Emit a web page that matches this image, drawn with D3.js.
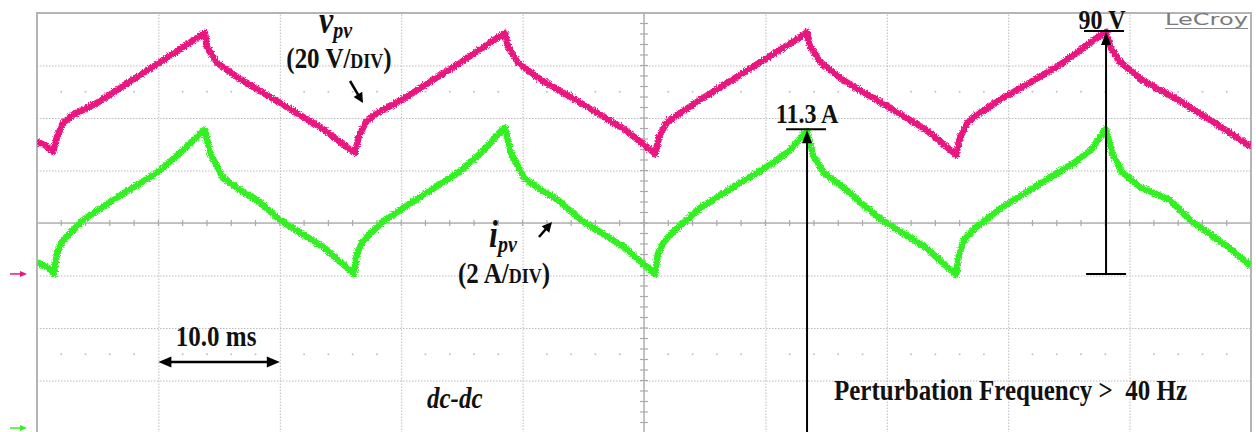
<!DOCTYPE html>
<html>
<head>
<meta charset="utf-8">
<script src="https://cdn.jsdelivr.net/npm/d3@7"></script>
<style>
  html, body { margin: 0; padding: 0; background: #fff; }
  svg { display: block; }
  .lbl { font-family: "Liberation Serif", "Times New Roman", serif; font-weight: bold; fill: #111; }
</style>
</head>
<body>
<svg id="scope" width="1256" height="432"></svg>
<script>
// Scope capture: v_pv (20 V/div) and i_pv (2 A/div), 10 ms/div
// samples are [time ms, value]

const vpvSamples = [
    [0, 50.3], [0.66, 49.1], [1.32, 46.5], [1.65, 52.2], [2.14, 57.5], [2.97, 60.6], [4.94, 65.1],
    [10.05, 80.4], [13.67, 91.4], [13.84, 91.8], [14.00, 86.5], [14.83, 80.4], [16.72, 74.3],
    [20.02, 65.1], [23.56, 55.2], [26.03, 46.5], [26.19, 46.1], [26.52, 52.6], [27.10, 57.9],
    [27.92, 61.0], [29.90, 65.9], [34.84, 80.4], [38.39, 91.4], [38.55, 91.8], [38.80, 86.5],
    [39.62, 80.4], [41.52, 73.9], [44.81, 65.1], [48.35, 55.2], [50.74, 46.5], [50.91, 45.7],
    [51.24, 52.2], [51.81, 57.5], [52.64, 60.2], [54.61, 66.3], [58.98, 78.9], [63.26, 91.4],
    [63.43, 92.2], [63.67, 86.9], [64.50, 80.8], [66.39, 73.9], [69.69, 64.8], [73.23, 54.9],
    [75.54, 46.1], [75.70, 45.3], [76.03, 51.8], [76.61, 57.5], [77.43, 60.6], [79.57, 67.0],
    [84.02, 78.9], [87.89, 91.8], [88.06, 92.2], [88.39, 86.5], [89.21, 80.8], [91.02, 73.9],
    [94.15, 65.9], [97.03, 57.5], [100, 48.4]
];

const ipvSamples = [
    [0, 6.32], [0.91, 6.10], [1.40, 5.87], [1.65, 6.67], [2.14, 7.16], [2.97, 7.54], [3.79, 7.92],
    [6.26, 8.69], [9.97, 9.75], [11.78, 10.48], [13.67, 11.31], [13.84, 11.35], [14.25, 10.48],
    [15.32, 9.52], [16.72, 9.07], [18.12, 8.69], [20.02, 7.92], [23.56, 6.90], [26.03, 5.91],
    [26.11, 5.87], [26.36, 6.67], [26.85, 7.12], [27.68, 7.51], [28.58, 7.89], [31.05, 8.65],
    [34.76, 9.75], [36.57, 10.48], [38.39, 11.39], [38.55, 11.43], [39.04, 10.48], [40.12, 9.52],
    [41.52, 9.07], [42.92, 8.69], [44.81, 7.92], [48.35, 6.90], [50.82, 5.91], [50.91, 5.87],
    [51.15, 6.67], [51.65, 7.09], [52.31, 7.43], [54.61, 8.38], [57.91, 9.33], [60.63, 10.10],
    [62.03, 10.59], [63.26, 11.24], [63.43, 11.31], [63.92, 10.40], [64.83, 9.71], [66.39, 9.18],
    [67.79, 8.61], [69.60, 7.92], [73.15, 6.90], [75.62, 5.87], [75.70, 5.83], [75.95, 6.63],
    [76.36, 7.16], [77.27, 7.62], [79.41, 8.38], [82.70, 9.33], [85.42, 10.10], [86.82, 10.59],
    [87.89, 11.31], [88.06, 11.39], [88.55, 10.48], [89.37, 9.75], [90.86, 9.18], [93.33, 8.69],
    [94.98, 7.92], [98.11, 6.90], [100, 6.17]
];

const timeGrid = [0, 10, 20, 30, 40, 50, 60, 70, 80, 90, 100];   // ms
const divGrid = [0, 1, 2, 3, 4, 5, 6, 7, 8];                      // vertical divisions
const dotRows = [1.5, 6.5];                                        // divisions

const markVolt = { t: 88.06, label: "90 V" };
const markAmp = { t: 63.43, label: "11.3 A" };

const PINK = "#ea1480";
const GREEN = "#33f022";
const STRETCH = 1.17;   // text in the capture is taller than Times

const svg = d3.select("#scope");

/* ------------------------------------------------------------------
   Scales
------------------------------------------------------------------ */

const x = d3.scaleLinear().domain([0, 100]).range([37, 1251]);
const yDiv = d3.scaleLinear().domain([0, 8]).range([13, 433]);
const yV = d3.scaleLinear().domain([-60.6, 99.4]).range([433, 13]);
const yI = d3.scaleLinear().domain([-0.19, 15.81]).range([433, 13]);

/* ------------------------------------------------------------------
   Defs: clip + trace roughness
------------------------------------------------------------------ */

const defs = svg.append("defs");
defs.append("clipPath").attr("id", "plotClip")
    .append("rect")
    .attr("x", x(0)).attr("y", yDiv(0))
    .attr("width", x(100) - x(0)).attr("height", yDiv(8) - yDiv(0));

const rough = defs.append("filter").attr("id", "rough")
    .attr("x", "-2%").attr("y", "-10%").attr("width", "104%").attr("height", "120%");
rough.append("feTurbulence")
    .attr("type", "fractalNoise").attr("baseFrequency", "0.8")
    .attr("numOctaves", 2).attr("seed", 4).attr("result", "noise");
rough.append("feDisplacementMap")
    .attr("in", "SourceGraphic").attr("in2", "noise")
    .attr("scale", 5).attr("xChannelSelector", "R").attr("yChannelSelector", "G");

/* ------------------------------------------------------------------
   Grid
------------------------------------------------------------------ */

const grid = svg.append("g");

grid.append("g")
    .attr("transform", `translate(0,${yDiv(8)})`)
    .call(d3.axisBottom(x).tickValues(timeGrid.slice(1, -1)).tickSize(-(yDiv(8) - yDiv(0))).tickFormat(""))
    .call(g => g.select(".domain").remove())
    .call(g => g.selectAll("line")
        .attr("stroke", "#bcbcbc").attr("stroke-dasharray", "1.5,1.5"));

grid.append("g")
    .attr("transform", `translate(${x(0)},0)`)
    .call(d3.axisLeft(yDiv).tickValues(divGrid.slice(1, -1)).tickSize(-(x(100) - x(0))).tickFormat(""))
    .call(g => g.select(".domain").remove())
    .call(g => g.selectAll("line")
        .attr("stroke", "#bcbcbc").attr("stroke-dasharray", "1.5,1.5"));

// centre cross, solid with minor ticks
grid.append("line")
    .attr("x1", x(50)).attr("x2", x(50)).attr("y1", yDiv(0)).attr("y2", yDiv(8))
    .attr("stroke", "#b4b4b4").attr("stroke-width", 1.5);
grid.append("line")
    .attr("x1", x(0)).attr("x2", x(100)).attr("y1", yDiv(4)).attr("y2", yDiv(4))
    .attr("stroke", "#b4b4b4").attr("stroke-width", 1.5);

grid.append("g").selectAll("line")
    .data(d3.range(0, 100.01, 2))
    .join("line")
    .attr("x1", d => x(d)).attr("x2", d => x(d))
    .attr("y1", yDiv(4) - 3).attr("y2", yDiv(4) + 3)
    .attr("stroke", "#aaaaaa").attr("stroke-width", 1.2);

grid.append("g").selectAll("line")
    .data(d3.range(0, 8.001, 0.2))
    .join("line")
    .attr("x1", x(50) - 4).attr("x2", x(50) + 4)
    .attr("y1", d => yDiv(d)).attr("y2", d => yDiv(d))
    .attr("stroke", "#aaaaaa").attr("stroke-width", 1.2);

// sub-division dot rows
dotRows.forEach(r => {
    grid.append("g").selectAll("rect")
        .data(d3.range(2, 100, 2).filter(t => t % 10 !== 0))
        .join("rect")
        .attr("x", d => x(d) - 0.8).attr("y", yDiv(r) - 0.8)
        .attr("width", 1.6).attr("height", 1.6)
        .attr("fill", "#bcbcbc");
});

// frame
grid.append("rect")
    .attr("x", x(0)).attr("y", yDiv(0))
    .attr("width", x(100) - x(0)).attr("height", yDiv(8) - yDiv(0))
    .attr("fill", "none").attr("stroke", "#b4b4b4").attr("stroke-width", 2);

/* ------------------------------------------------------------------
   Traces
------------------------------------------------------------------ */

const traces = svg.append("g").attr("clip-path", "url(#plotClip)");

traces.append("path")
    .datum(vpvSamples)
    .attr("d", d3.line().x(d => x(d[0])).y(d => yV(d[1])))
    .attr("fill", "none").attr("stroke", PINK)
    .attr("stroke-width", 6.5).attr("stroke-linejoin", "round")
    .attr("filter", "url(#rough)");

traces.append("path")
    .datum(ipvSamples)
    .attr("d", d3.line().x(d => x(d[0])).y(d => yI(d[1])))
    .attr("fill", "none").attr("stroke", GREEN)
    .attr("stroke-width", 6.5).attr("stroke-linejoin", "round")
    .attr("filter", "url(#rough)");

/* ------------------------------------------------------------------
   Channel ground markers
------------------------------------------------------------------ */

function groundMark(yPos, color) {
    const g = svg.append("g");
    g.append("line").attr("x1", 10).attr("x2", 22).attr("y1", yPos).attr("y2", yPos)
        .attr("stroke", color).attr("stroke-width", 1.5);
    g.append("path").attr("d", `M20,${yPos - 3}L27,${yPos}L20,${yPos + 3}Z`).attr("fill", color);
}
groundMark(yV(0), PINK);
groundMark(yI(0), GREEN);

/* ------------------------------------------------------------------
   Annotations
------------------------------------------------------------------ */

const ann = svg.append("g");

function label(px, py, size) {
    return ann.append("text").attr("class", "lbl")
        .attr("transform", `translate(${px},${py}) scale(1,${STRETCH})`)
        .attr("font-size", size);
}

function arrowHead(xTip, yTip, angle, len, half) {
    const ca = Math.cos(angle), sa = Math.sin(angle);
    const bx = xTip - ca * len, by = yTip - sa * len;
    return `M${xTip},${yTip}L${bx - sa * half},${by + ca * half}L${bx + sa * half},${by - ca * half}Z`;
}

function arrow(x1, y1, x2, y2, width, len, half) {
    const a = Math.atan2(y2 - y1, x2 - x1);
    ann.append("line")
        .attr("x1", x1).attr("y1", y1)
        .attr("x2", x2 - Math.cos(a) * len * 0.8).attr("y2", y2 - Math.sin(a) * len * 0.8)
        .attr("stroke", "#000").attr("stroke-width", width);
    ann.append("path").attr("d", arrowHead(x2, y2, a, len, half)).attr("fill", "#000");
}

// v_pv label
const vLab = label(319, 33, 32).attr("font-style", "italic");
vLab.append("tspan").text("v");
vLab.append("tspan").attr("font-size", 20).attr("dy", 4).text("pv");

const vDiv = label(339, 68, 25).attr("text-anchor", "middle");
vDiv.append("tspan").text("(20 V/");
vDiv.append("tspan").attr("font-size", 18).text("DIV");
vDiv.append("tspan").text(")");

arrow(350, 81, 363, 103, 2.5, 10, 5);

// i_pv label
const iLab = label(489, 247, 32).attr("font-style", "italic");
iLab.append("tspan").text("i");
iLab.append("tspan").attr("font-size", 20).attr("dy", 4).text("pv");

const iDiv = label(504, 283, 25).attr("text-anchor", "middle");
iDiv.append("tspan").text("(2 A/");
iDiv.append("tspan").attr("font-size", 18).text("DIV");
iDiv.append("tspan").text(")");

arrow(539, 237, 552, 222, 2.5, 10, 5);

// time base
label(x(15) - 3, 346, 25).attr("text-anchor", "middle").text("10.0 ms");
{
    const y0 = 362, xa = x(10), xb = x(20);
    ann.append("line").attr("x1", xa + 10).attr("x2", xb - 10).attr("y1", y0).attr("y2", y0)
        .attr("stroke", "#000").attr("stroke-width", 2.5);
    ann.append("path").attr("d", arrowHead(xa, y0, Math.PI, 13, 5.5)).attr("fill", "#000");
    ann.append("path").attr("d", arrowHead(xb, y0, 0, 13, 5.5)).attr("fill", "#000");
}

label(427, 408, 25).attr("font-style", "italic").text("dc-dc");

label(834, 400, 25).attr("xml:space", "preserve").style("white-space", "pre")
    .text("Perturbation Frequency >  40 Hz");

// current peak measurement
{
    const peak = ipvSamples.find(d => d[0] === markAmp.t)[1];
    const xm = x(markAmp.t), yTop = yI(peak);
    ann.append("line").attr("x1", xm).attr("x2", xm).attr("y1", 440).attr("y2", yTop + 10)
        .attr("stroke", "#000").attr("stroke-width", 2);
    ann.append("path").attr("d", arrowHead(xm, yTop - 1, -Math.PI / 2, 13, 5)).attr("fill", "#000");
    ann.append("line").attr("x1", xm - 21).attr("x2", xm + 19).attr("y1", yTop - 2).attr("y2", yTop - 2)
        .attr("stroke", "#000").attr("stroke-width", 2);
    label(xm, yTop - 8, 24).attr("text-anchor", "middle").text(markAmp.label);
}

// voltage peak measurement
{
    const peak = vpvSamples.find(d => d[0] === markVolt.t)[1];
    const xm = x(markVolt.t), yTop = yV(peak), yBot = yV(0);
    ann.append("line").attr("x1", xm).attr("x2", xm).attr("y1", yBot).attr("y2", yTop + 10)
        .attr("stroke", "#000").attr("stroke-width", 2);
    ann.append("path").attr("d", arrowHead(xm, yTop, -Math.PI / 2, 13, 5)).attr("fill", "#000");
    ann.append("line").attr("x1", xm - 20).attr("x2", xm + 20).attr("y1", yBot).attr("y2", yBot)
        .attr("stroke", "#000").attr("stroke-width", 2);
    ann.append("line").attr("x1", xm - 22).attr("x2", xm + 18).attr("y1", yTop - 1).attr("y2", yTop - 1)
        .attr("stroke", "#000").attr("stroke-width", 2);
    label(xm - 4, yTop - 3, 24).attr("text-anchor", "middle").attr("font-weight", "normal")
        .text(markVolt.label);
}

// scope brand
ann.append("text")
    .attr("transform", "translate(1165,25) scale(1,1.15)")
    .attr("font-family", "'DejaVu Sans', sans-serif").attr("font-size", 14)
    .attr("fill", "#7a7a7a")
    .attr("textLength", 83).attr("lengthAdjust", "spacingAndGlyphs")
    .text("LeCroy");
ann.append("line").attr("x1", 1165).attr("x2", 1248).attr("y1", 28.5).attr("y2", 28.5)
    .attr("stroke", "#8a8a8a").attr("stroke-width", 1.2);
</script>
</body>
</html>
